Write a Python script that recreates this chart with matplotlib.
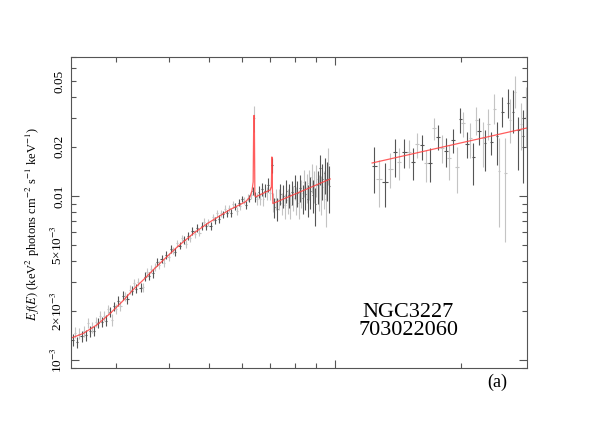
import numpy as np
import matplotlib
matplotlib.use('Agg')
import matplotlib.pyplot as plt
from matplotlib.ticker import FixedLocator, FixedFormatter, LogLocator, NullFormatter, FuncFormatter

# XIS spectrum (keV, 1e-3 keV^2 photons cm^-2 s^-1 keV^-1)
xis_energy = [
    2.36, 2.39, 2.42, 2.45, 2.48, 2.51, 2.54, 2.57, 2.60, 2.63,
    2.66, 2.69, 2.72, 2.75, 2.78, 2.81, 2.84, 2.87, 2.90, 2.93,
    2.96, 2.99, 3.03, 3.07, 3.11, 3.15, 3.19, 3.23, 3.27, 3.31,
    3.35, 3.39, 3.43, 3.47, 3.51, 3.55, 3.59, 3.63, 3.67, 3.71,
    3.75, 3.80, 3.85, 3.90, 3.95, 4.00, 4.05, 4.10, 4.15, 4.20,
    4.25, 4.30, 4.35, 4.40, 4.45, 4.50, 4.56, 4.62, 4.68, 4.74,
    4.80, 4.86, 4.92, 4.98, 5.04, 5.10, 5.16, 5.22, 5.28, 5.34,
    5.40, 5.46, 5.52, 5.58, 5.64, 5.70, 5.76, 5.82, 5.88, 5.94,
    6.00, 6.06, 6.12, 6.18, 6.24, 6.30, 6.35, 6.40, 6.45, 6.50,
    6.56, 6.62, 6.68, 6.74, 6.80, 6.86, 6.92, 6.98, 7.06, 7.10,
    7.16, 7.22, 7.28, 7.34, 7.40, 7.46, 7.52, 7.58, 7.64, 7.70,
    7.76, 7.82, 7.88, 7.94, 8.00, 8.06, 8.12, 8.18, 8.24, 8.30,
    8.36, 8.42, 8.48, 8.54, 8.60, 8.66, 8.72, 8.78, 8.84, 8.90,
    8.96, 9.02, 9.08, 9.14, 9.20, 9.26, 9.32, 9.38, 9.44, 9.50,
    9.56, 9.62, 9.68,
]
xis_flux = [
    1.33, 1.47, 1.29, 1.45, 1.40, 1.50, 1.42, 1.68, 1.50, 1.59,
    1.51, 1.71, 1.69, 1.85, 1.70, 1.86, 1.74, 2.04, 1.96, 1.76,
    2.12, 2.05, 2.29, 2.14, 2.47, 2.44, 2.35, 2.69, 2.65, 2.96,
    2.72, 3.00, 2.76, 2.78, 3.23, 3.42, 3.26, 3.60, 3.38, 3.69,
    3.98, 3.81, 4.13, 3.90, 4.36, 4.27, 4.76, 4.67, 4.57, 5.15,
    4.98, 5.52, 5.40, 5.09, 5.72, 5.51, 6.12, 5.88, 6.39, 5.98,
    6.57, 6.97, 6.52, 6.92, 6.57, 7.42, 7.13, 7.87, 7.26, 7.84,
    7.74, 8.35, 7.83, 8.45, 7.89, 8.93, 8.62, 8.12, 9.10, 8.68,
    9.60, 9.35, 8.82, 9.78, 9.64, 10.1, 10.8, 30.0, 9.90, 9.65,
    10.65, 9.64, 11.07, 9.63, 10.8, 10.4, 11.7, 10.4, 15.5, 9.2,
    8.53, 9.60, 8.38, 9.56, 10.3, 9.03, 10.05, 8.79, 10.8, 9.40,
    10.15, 8.85, 10.6, 9.77, 11.46, 9.51, 10.5, 9.03, 11.26, 10.5,
    9.75, 12.13, 10.3, 11.33, 9.59, 11.92, 10.69, 12.97, 10.18, 11.7,
    8.90, 12.64, 11.59, 10.75, 14.80, 10.44, 12.61, 11.29, 13.73, 9.60,
    12.72, 15.60, 11.55,
]
xis_err = [
    0.11, 0.11, 0.10, 0.11, 0.11, 0.11, 0.11, 0.12, 0.11, 0.12,
    0.11, 0.12, 0.12, 0.13, 0.12, 0.13, 0.13, 0.14, 0.14, 0.14,
    0.14, 0.14, 0.15, 0.15, 0.16, 0.16, 0.16, 0.17, 0.17, 0.18,
    0.17, 0.18, 0.17, 0.18, 0.19, 0.20, 0.19, 0.21, 0.20, 0.21,
    0.22, 0.21, 0.22, 0.22, 0.23, 0.23, 0.25, 0.25, 0.25, 0.27,
    0.26, 0.28, 0.28, 0.27, 0.29, 0.29, 0.31, 0.30, 0.32, 0.31,
    0.33, 0.35, 0.33, 0.35, 0.34, 0.37, 0.36, 0.39, 0.37, 0.39,
    0.39, 0.41, 0.40, 0.42, 0.41, 0.44, 0.43, 0.42, 0.45, 0.44,
    0.47, 0.46, 0.45, 0.48, 0.48, 0.50, 0.60, 5.5, 0.70, 0.80,
    0.90, 0.85, 1.0, 0.95, 1.0, 1.0, 1.1, 1.0, 1.6, 1.2,
    1.2, 1.4, 1.3, 1.4, 1.5, 1.4, 1.6, 1.5, 1.7, 1.6,
    1.7, 1.6, 1.8, 1.7, 1.9, 1.8, 1.9, 1.8, 2.1, 2.0,
    2.0, 2.3, 2.1, 2.3, 2.1, 2.4, 2.3, 2.6, 2.3, 2.6,
    2.3, 2.8, 2.6, 2.6, 3.1, 2.8, 3.1, 3.0, 3.4, 3.1,
    3.4, 3.9, 3.7,
]

# HXD/PIN spectrum
pin_energy = [
    12.39, 12.74, 13.16, 13.53, 13.91, 14.21, 14.61, 15.02, 15.35, 15.69,
    16.12, 16.49, 16.86, 17.23, 17.62, 18.00, 18.41, 18.71, 19.12, 19.55,
    19.87, 20.21, 20.65, 21.00, 21.35, 21.70, 22.07, 22.56, 22.80, 23.19,
    23.57, 23.96, 24.36, 24.63, 25.04, 25.45, 25.88, 26.16, 26.60, 26.89,
    27.34, 27.80, 28.11, 28.57,
]
pin_flux = [
    15.2, 12.7, 12.2, 14.6, 18.5, 16.1, 18.5, 18.5, 16.1, 20.8,
    20.5, 15.9, 15.9, 26.0, 22.9, 19.6, 18.8, 17.0, 22.0, 15.0,
    29.5, 27.9, 20.8, 22.6, 17.3, 29.1, 24.9, 22.6, 21.0, 27.5,
    21.3, 33.9, 23.2, 14.2, 32.5, 13.8, 36.9, 29.1, 32.5, 43.1,
    25.3, 27.5, 23.2, 30.3,
]
pin_low = [
    10.4, 8.57, 8.57, 11.2, 13.1, 12.5, 14.8, 14.8, 12.5, 17.0,
    16.6, 12.2, 12.2, 22.0, 19.1, 15.9, 15.0, 12.5, 18.3, 10.4,
    24.2, 22.9, 17.0, 17.0, 11.7, 23.6, 20.5, 15.0, 14.2, 22.0,
    17.8, 27.5, 15.5, 6.47, 26.3, 5.24, 29.9, 21.0, 24.2, 34.4,
    14.4, 19.1, 12.0, 19.9,
]
pin_high = [
    19.9, 16.6, 15.9, 18.3, 22.3, 19.6, 22.3, 22.0, 19.6, 24.2,
    23.6, 19.1, 19.6, 29.9, 27.1, 23.6, 22.6, 20.5, 25.6, 19.9,
    34.4, 32.5, 24.6, 27.9, 21.0, 34.9, 29.9, 28.3, 25.3, 33.9,
    24.6, 41.9, 28.3, 22.6, 40.1, 22.6, 44.9, 39.0, 44.3, 53.9,
    30.3, 36.9, 33.5, 46.2,
]

# best-fit model
model_xis_energy = [2.34, 2.50, 2.70, 2.90, 3.10, 3.30, 3.50, 3.70, 3.90, 4.20,
                    4.60, 5.00, 5.60, 6.10, 6.25, 6.33, 6.37, 6.385, 6.40, 6.415,
                    6.43, 6.47, 7.00, 7.04, 7.06, 7.08, 7.10, 9.73]
model_xis_flux = [1.36, 1.45, 1.64, 1.92, 2.27, 2.70, 3.12, 3.60, 4.10, 4.90,
                  5.95, 6.90, 8.25, 9.2, 9.8, 10.8, 12.2, 24.0, 31.0, 24.0,
                  10.0, 9.9, 10.9, 11.4, 17.3, 11.2, 9.0, 12.7]
model_pin_energy = [12.25, 28.7]
model_pin_flux = [15.9, 26.0]

plt.rcParams['font.family'] = ['Liberation Serif', 'DejaVu Serif']
plt.rcParams['mathtext.fontset'] = 'stix'

dark = '#555555'
light = '#c4c4c4'

fig = plt.figure(figsize=(5.98, 4.25), dpi=100)
ax = fig.add_axes([71 / 598, 1 - 368 / 425, 456 / 598, 311 / 425])
ax.set_xscale('log')
ax.set_yscale('log')


def draw_points(energy, flux, lo, hi):
    energy = np.array(energy)
    flux = np.array(flux) * 1e-3
    lo = np.array(lo) * 1e-3
    hi = np.array(hi) * 1e-3
    half = np.gradient(energy) / 2
    for start, color in ((1, light), (0, dark)):
        s = slice(start, None, 2)
        ax.errorbar(energy[s], flux[s], yerr=[flux[s] - lo[s], hi[s] - flux[s]],
                    xerr=half[s], fmt='none', ecolor=color, elinewidth=0.8, capsize=0)


xf = np.array(xis_flux)
xe = np.array(xis_err)
draw_points(xis_energy, xf, xf - xe, xf + xe)
draw_points(pin_energy, pin_flux, pin_low, pin_high)

ax.plot(model_xis_energy, np.array(model_xis_flux) * 1e-3, color='#ff4040', lw=0.9, alpha=0.85)
ax.plot(model_pin_energy, np.array(model_pin_flux) * 1e-3, color='#ff4040', lw=0.9, alpha=0.85)

ax.set_xlim(2.34, 28.7)
ax.set_ylim(8.94e-4, 0.0704)

ax.xaxis.set_major_formatter(NullFormatter())
ax.xaxis.set_minor_formatter(NullFormatter())

ax.yaxis.set_major_locator(FixedLocator([1e-3, 1e-2]))
ax.yaxis.set_major_formatter(FixedFormatter(['10$^{-3}$', '0.01']))
ax.yaxis.set_minor_locator(LogLocator(base=10, subs=range(2, 10)))
minor_labels = {2e-3: '2×10$^{-3}$', 5e-3: '5×10$^{-3}$', 0.02: '0.02', 0.05: '0.05'}


def minor_fmt(v, pos):
    for k, s in minor_labels.items():
        if abs(v / k - 1) < 1e-6:
            return s
    return ''


ax.yaxis.set_minor_formatter(FuncFormatter(minor_fmt))

ax.tick_params(which='both', direction='in', top=True, right=True, color='#555555',
               width=0.8, labelsize=9.5, pad=4)
ax.tick_params(which='major', length=6)
ax.tick_params(which='minor', length=3.5)
for lab in ax.get_yticklabels(which='both'):
    lab.set_rotation(90)
    lab.set_va('center')
for sp in ax.spines.values():
    sp.set_color('#555555')
    sp.set_linewidth(0.8)

fig.text(33 / 598, 1 - 224 / 425,
         r'$E\,f(E)$ (keV$^2$ photons cm$^{-2}$ s$^{-1}$ keV$^{-1}$)',
         rotation=90, ha='center', va='center', fontsize=9)

fig.text(408 / 598, 1 - 317 / 425, 'NGC3227', ha='center', va='baseline', fontsize=16)
fig.text(408 / 598, 1 - 335 / 425, '703022060', ha='center', va='baseline', fontsize=16)
fig.text(497 / 598, 1 - 387 / 425, '(a)', ha='center', va='baseline', fontsize=13)

fig.savefig('out.png', dpi=100)
